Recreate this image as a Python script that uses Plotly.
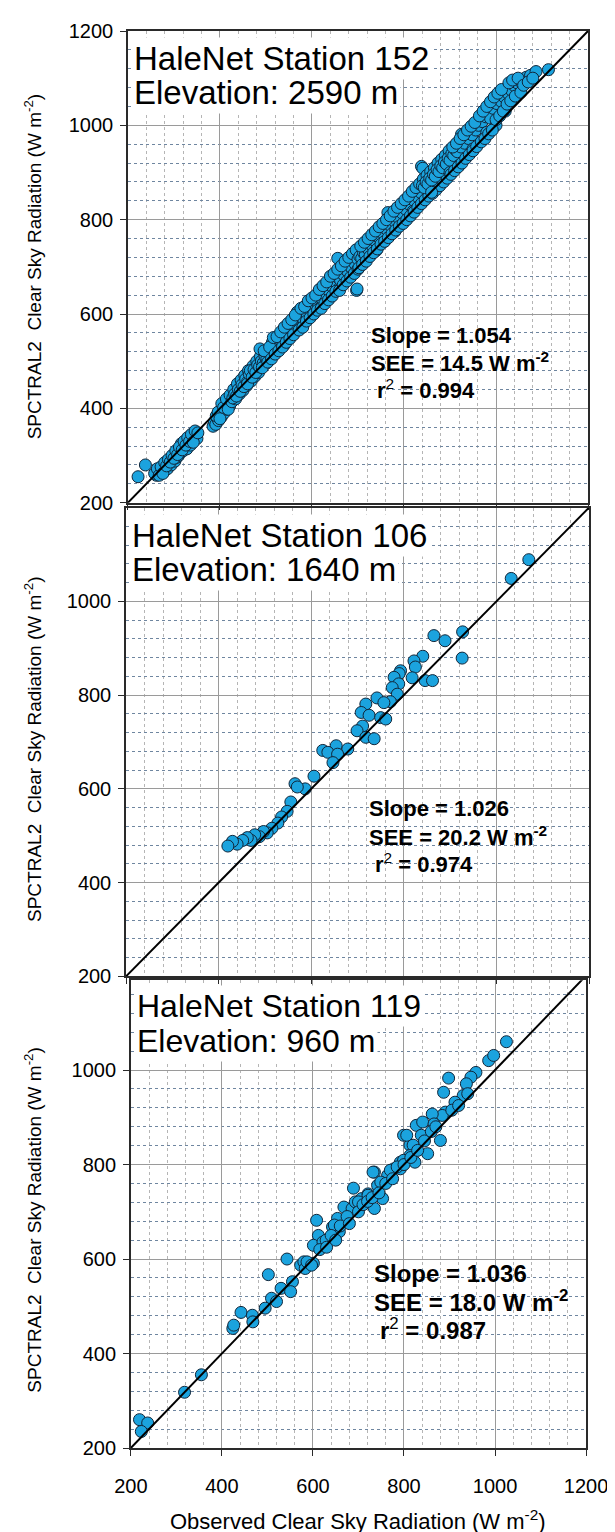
import plotly.graph_objects as go

# ---------------- data ----------------
pts_152 = [(222,255),(238,280),(262,258),(266,266),(270,262),(274,270),(278,266),(282,275),(286,272),(290,283),
(294,280),(298,290),(302,288),(306,296),(310,300),(314,306),(316,325),(320,310),(324,318),(328,314),(332,326),
(336,322),(340,334),(344,338),(347,345),(350,336),
(258,262),(264,272),(268,258),(272,276),(276,262),(280,285),(284,278),(288,292),(292,286),(296,300),(300,294),
(304,310),(308,302),(312,318),(318,312),(322,330),(326,322),(330,338),(334,330),(338,345),(342,328),(346,352),
(352,348),
(385,362),(388,372),(391,366),(394,380),(397,374),(400,388),(403,382),(406,396),(409,390),(412,402),(415,398),
(418,410),(420,412),(421,405),(424,418),
(392,384),(396,392),(400,378),(404,410),(408,402),(414,420),(418,398),(422,428),(426,414),(430,440),(434,420),
(438,452),(442,430),(446,460),(450,438),(454,470),(458,448),(462,480),(468,458),(472,490),(476,468),(480,500),
(484,476),(488,510),
(428,422),(432,430),(436,426),(440,440),(444,436),(448,450),(452,446),(456,462),(460,456),(460,452),(464,472),
(466,480),(470,466),(474,482),(478,476),(482,492),(486,488),(487,526),(490,500),(494,496),(498,510),(500,495),
(502,506),(506,518),(510,512),(514,540),(519,545),(522,528),(526,536),(530,548),(534,542),(538,556),(540,535),
(542,550),(546,562),(550,558),(554,570),(558,566),(562,578),(566,574),(568,604),(570,586),(574,603),(578,592),
(580,575),(582,588),(586,600),(590,596),(594,610),(598,606),(602,618),(606,614),(610,626),(614,622),(618,636),
(620,615),(622,632),(626,644),(630,640),(634,652),(638,648),(642,660),(646,656),(650,668),(654,664),(656,718),
(658,676),(660,655),(662,672),(666,686),(670,682),(674,694),(678,690),(682,702),(686,698),(690,712),(694,706),
(492,486),(496,522),(504,498),(508,530),(512,505),(516,550),(520,515),(524,552),(528,522),(532,562),(536,530),
(540,572),(544,540),(548,580),(552,548),(556,588),(560,556),(564,598),(572,566),(576,612),(580,572),(584,616),
(588,585),(592,628),(596,592),(600,634),(604,600),(608,640),(612,608),(616,652),(620,612),(624,660),(628,622),
(632,668),(636,630),(640,680),(644,638),(648,686),(652,648),(656,695),(660,650),(664,702),(668,662),(672,712),
(676,670),(680,720),(684,678),(688,728),(692,686),(696,736),
(697,650),(698,653),(700,716),(700,695),(704,722),(708,718),(712,730),(716,726),(720,740),(724,736),(728,748),
(732,744),(736,756),(740,752),(740,735),(744,764),(748,760),(752,774),(756,770),(760,782),(764,778),(765,815),
(768,790),(772,786),(776,800),(780,796),(780,775),(784,808),(788,804),(792,818),(796,814),(800,826),(804,822),
(808,836),(812,832),(816,846),(820,842),(820,818),(824,854),(828,850),(832,862),(836,858),(838,913),(841,909),
(702,698),(706,744),(710,705),(714,752),(718,712),(722,760),(726,722),(730,768),(734,730),(738,776),(742,738),
(746,785),(750,748),(754,792),(758,754),(762,800),(766,762),(770,808),(774,770),(778,818),(782,778),(786,826),
(790,786),(794,834),(798,792),(802,842),(806,800),(810,850),(814,808),(818,860),(822,816),(826,868),(830,826),
(834,876),(838,834),(842,886),(846,842),(850,894),(854,850),(858,902),(862,856),(866,910),(870,864),(874,920),
(878,872),(882,928),(886,880),(890,936),(894,888),(898,946),
(840,872),(844,868),(848,880),(852,876),(856,888),(860,884),(860,858),(864,896),(868,892),(872,906),(876,902),
(880,914),(884,910),(888,922),(892,918),(896,930),(900,926),(900,900),(904,940),(908,936),(912,948),(916,944),
(920,958),(920,915),(925,981),(924,954),(928,966),(932,962),(936,976),(940,972),(944,984),(948,980),(950,950),
(952,994),(956,990),(960,1008),(962,1000),(966,1012),(970,1008),(974,1022),(978,1018),(980,985),(982,1032),
(986,1028),(988,1015),(990,1042),(994,1036),(998,1050),(1000,1000),(1002,1046),(1006,1058),(1010,1052),
(1014,1064),(1018,1060),(1020,1030),(1022,1072),(1026,1068),(1030,1078),(1034,1074),(1040,1084),(1046,1090),
(1052,1094),(1058,1098),(1066,1102),(1075,1106),(1087,1114),(1114,1118),
(902,896),(906,954),(910,904),(914,962),(918,912),(922,972),(926,920),(930,980),(934,930),(938,990),(942,938),
(946,998),(950,946),(954,1006),(958,955),(964,1020),(968,965),(972,1030),(976,972),(980,1040),(984,982),
(988,1050),(992,990),(996,1060),(1000,1012),(1004,1068),(1008,1020),(1012,1076),(1016,1030),(1024,1045),
(1028,1090),(1032,1052),(1036,1096),(1042,1062),(1048,1100),(1054,1070),(1060,1085),(1070,1092),(1080,1100)]

pts_106 = [(1032,1049),(1070,1089),(927,935),(865,927),(889,916),(926,879),(841,883),(822,873),(825,860),
(793,852),(790,846),(818,837),(846,831),(862,831),(779,838),(789,824),(775,816),(786,802),(771,786),(742,794),
(718,781),(757,784),(708,763),(725,757),(750,752),(761,749),(711,734),(699,724),(718,710),(736,707),(654,692),
(679,685),(625,682),(636,678),(657,674),(647,656),(606,627),(565,611),(587,600),(570,604),(556,572),(548,552),
(536,540),(528,527),(515,516),(505,506),(497,509),(488,498),(478,502),(470,490),(462,496),(452,490),(440,482),
(430,488),(420,478)]

pts_119 = [(219,260),(237,253),(223,235),(318,318),(355,355),(424,453),(426,460),(442,487),(467,481),(468,467),
(502,567),(509,517),(520,510),(495,496),(530,538),(555,552),(551,531),(543,600),(573,587),(580,594),(583,580),
(601,591),(608,682),(612,650),(601,629),(622,636),(629,640),(643,668),(658,658),(665,679),(668,710),(686,707),
(693,721),(689,750),(707,728),(721,738),(735,784),(742,756),(753,728),(735,707),(764,777),(778,791),(792,805),
(799,862),(813,841),(820,826),(827,883),(1025,1060),(986,1020),(997,1031),(958,995),(947,985),(937,971),
(898,983),(887,953),(930,946),(912,932),(891,911),(884,904),(862,907),(841,890),(866,886),(880,851),(852,823),
(838,862),(806,862),(820,841),(813,819),(799,809),(824,805),(792,791),(770,788),(732,784),(749,763),(721,735),
(700,721),(654,686),(647,672),(587,594),(597,587),(615,620),(630,625),(640,650),(650,640),(660,670),(675,690),
(680,675),(700,700),(710,715),(720,722),(730,730),(745,740),(760,760),(775,770),(785,795),(800,800),(815,815),
(830,830),(845,850),(860,870),(870,880),(905,915),(920,925),(940,950)]

stations = ["152", "106", "119"]
elevations = ["2590 m", "1640 m", "960 m"]
slopes = ["1.054", "1.026", "1.036"]
sees = ["14.5", "20.2", "18.0"]
r2s = ["0.994", "0.974", "0.987"]
one_to_one = [200, 1200]
x_ticks = [200, 400, 600, 800, 1000, 1200]
y_ticks = [[200, 400, 600, 800, 1000, 1200], [200, 400, 600, 800, 1000], [200, 400, 600, 800, 1000]]
all_pts = [pts_152, pts_106, pts_119]

# ---------------- layout geometry (pixels) ----------------
W, H = 615, 1532
ML, MR, MT, MB = 118, 19, 19, 92
PW, PH = W - ML - MR, H - MT - MB
panels_py = [(19, 492), (497, 967), (971, 1440)]
panels_px = [(120, 595), (118, 596), (123, 593)]
y_ranges = [[200, 1200], [200, 1200], [200, 1190]]
title_dy = [(28, 62), (28, 62), (26, 61)]
title_size = [33, 33, 32]
stat_base = [305, 302, 294]
stat_gap = [27, 27, 28]
stat_size = [22, 22, 24]
ytitle_centers = [256, 740, 1212]

def py(ypx):
    return (H - MB - ypx) / PH

def px(xpx):
    return (xpx - ML) / PW

FONT = "Arial, Liberation Sans, sans-serif"
BLUE = "#1BA3DE"

fig = go.Figure()

for i, pts in enumerate(all_pts):
    sfx = "" if i == 0 else str(i + 1)
    fig.add_trace(go.Scatter(
        x=[p[0] for p in pts], y=[p[1] for p in pts], mode="markers",
        marker=dict(size=12, color=BLUE, line=dict(width=1, color="#10263a")),
        xaxis="x" + sfx, yaxis="y" + sfx, showlegend=False, hoverinfo="skip"))
    fig.add_trace(go.Scatter(
        x=one_to_one, y=one_to_one, mode="lines",
        line=dict(color="black", width=2),
        xaxis="x" + sfx, yaxis="y" + sfx, showlegend=False, hoverinfo="skip"))

common = dict(showline=True, linecolor="#2a2a2a", linewidth=1.5, mirror=True,
              showgrid=True, gridcolor="#9a9a9a", gridwidth=1,
              ticks="outside", ticklen=6, tickcolor="#2a2a2a", zeroline=False,
              tickfont=dict(family=FONT, size=20, color="black"))

layout = dict(width=W, height=H, margin=dict(l=ML, r=MR, t=MT, b=MB),
              paper_bgcolor="white", plot_bgcolor="white", showlegend=False)

for i in range(3):
    sfx = "" if i == 0 else str(i + 1)
    top, bot = panels_py[i]
    lft, rgt = panels_px[i]
    layout["xaxis" + sfx] = dict(common, domain=[px(lft), px(rgt)], range=[200, 1200], anchor="y" + sfx,
                                 tickmode="array", tickvals=x_ticks,
                                 showticklabels=(i == 2), ticklabelstandoff=13,
                                 ticklabeloverflow="allow",
                                 minor=dict(dtick=40, tick0=0, showgrid=True, gridcolor="#b5b5b5",
                                            griddash="dot", gridwidth=1))
    layout["yaxis" + sfx] = dict(common, domain=[py(bot), py(top)], range=y_ranges[i],
                                 anchor="x" + sfx, tickmode="array", tickvals=y_ticks[i],
                                 ticklabelstandoff=3,
                                 minor=dict(dtick=40, tick0=0, showgrid=True, gridcolor="#6f86a0",
                                            griddash="dot", gridwidth=1))

annotations = []
for i in range(3):
    top, bot = panels_py[i]
    lft, rgt = panels_px[i]
    annotations.append(dict(text="HaleNet Station " + stations[i], xref="paper", yref="paper",
                            x=px(lft + 3), y=py(top + title_dy[i][0]), xanchor="left", yanchor="middle",
                            showarrow=False, bgcolor="white", borderpad=2,
                            font=dict(family=FONT, size=title_size[i], color="black")))
    annotations.append(dict(text="Elevation: " + elevations[i], xref="paper", yref="paper",
                            x=px(lft + 3), y=py(top + title_dy[i][1]), xanchor="left", yanchor="middle",
                            showarrow=False, bgcolor="white", borderpad=2,
                            font=dict(family=FONT, size=title_size[i], color="black")))
    base = top + stat_base[i]
    g = stat_gap[i]
    fs = stat_size[i]
    annotations.append(dict(text="<b>Slope = " + slopes[i] + "</b>", xref="paper", yref="paper",
                            x=px(lft + 249), y=py(base), xanchor="left", yanchor="middle",
                            showarrow=False, font=dict(family=FONT, size=fs, color="black")))
    annotations.append(dict(text="<b>SEE = " + sees[i] + " W m<sup>-2</sup></b>", xref="paper", yref="paper",
                            x=px(lft + 249), y=py(base + g), xanchor="left", yanchor="middle",
                            showarrow=False, font=dict(family=FONT, size=fs, color="black")))
    annotations.append(dict(text="<b>r</b><sup>2</sup><b> = " + r2s[i] + "</b>", xref="paper", yref="paper",
                            x=px(lft + 255), y=py(base + 2 * g), xanchor="left", yanchor="middle",
                            showarrow=False, font=dict(family=FONT, size=fs, color="black")))
    annotations.append(dict(text="SPCTRAL2  Clear Sky Radiation (W m<sup>-2</sup>)", xref="paper", yref="paper",
                            x=px(22), y=py(ytitle_centers[i]), xanchor="center", yanchor="middle",
                            textangle=-90, showarrow=False,
                            font=dict(family=FONT, size=19, color="black")))

annotations.append(dict(text="Observed Clear Sky Radiation (W m<sup>-2</sup>)", xref="paper", yref="paper",
                        x=px(358), y=py(1512), xanchor="center", yanchor="middle", showarrow=False,
                        font=dict(family=FONT, size=22, color="black")))
layout["annotations"] = annotations

fig.update_layout(**layout)
fig.write_html("out.html")
